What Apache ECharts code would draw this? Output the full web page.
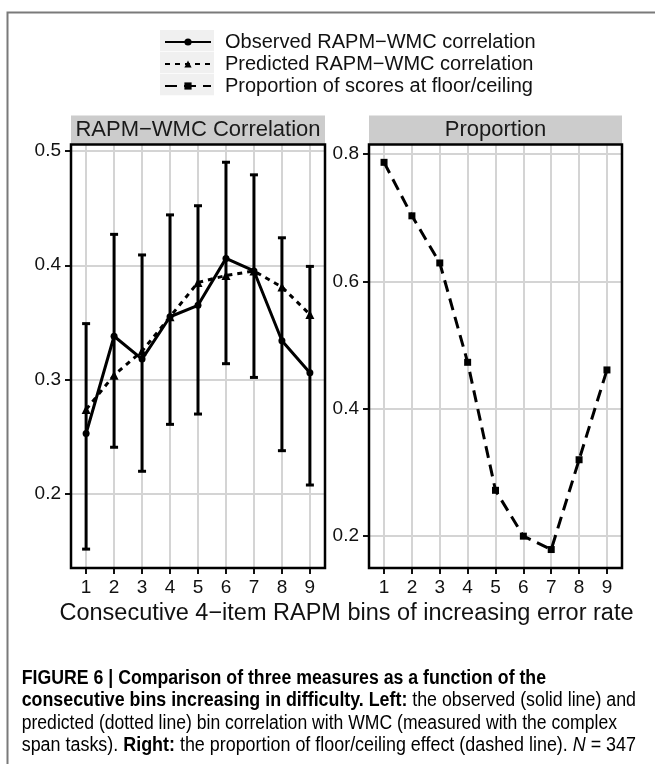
<!DOCTYPE html>
<html>
<head>
<meta charset="utf-8">
<script src="https://cdn.jsdelivr.net/npm/echarts@6/dist/echarts.min.js"></script>
<style>
html, body { margin: 0; padding: 0; background: #fff; }
#chart { width: 655px; height: 764px; }
</style>
</head>
<body>
<div id="chart"></div>
<script>
// bins 1..9
const bins = [1, 2, 3, 4, 5, 6, 7, 8, 9]
// observed correlation and its error bar ends
const observed = [0.253, 0.338, 0.318, 0.355, 0.365, 0.406, 0.395, 0.334, 0.306]
const observedLow = [0.152, 0.241, 0.220, 0.261, 0.270, 0.314, 0.302, 0.238, 0.208]
const observedHigh = [0.349, 0.427, 0.409, 0.444, 0.452, 0.490, 0.479, 0.424, 0.399]
// predicted correlation
const predicted = [0.274, 0.304, 0.325, 0.355, 0.385, 0.391, 0.395, 0.381, 0.357]
// proportion at floor/ceiling
const proportion = [0.787, 0.703, 0.629, 0.473, 0.272, 0.200, 0.179, 0.320, 0.461]
// tick labels
const xTicks = [1, 2, 3, 4, 5, 6, 7, 8, 9]
const corrTicks = [0.2, 0.3, 0.4, 0.5]
const propTicks = [0.2, 0.4, 0.6, 0.8]
const seriesNames = ['Observed RAPM\u2212WMC correlation', 'Predicted RAPM\u2212WMC correlation', 'Proportion of scores at floor/ceiling']
const stripTitles = ['RAPM\u2212WMC Correlation', 'Proportion']
const xTitle = 'Consecutive 4\u2212item RAPM bins of increasing error rate'
// caption, one array per line: [style, text]
const caption = [
    [['b', 'FIGURE 6 | Comparison of three measures as a function of the']],
    [['b', 'consecutive bins increasing in difficulty. Left:'], ['r', ' the observed (solid line) and']],
    [['r', 'predicted (dotted line) bin correlation with WMC (measured with the complex']],
    [['r', 'span tasks). '], ['b', 'Right:'], ['r', ' the proportion of floor/ceiling effect (dashed line). '], ['i', 'N'], ['r', ' = 347']]
]
const captionEnds = [546, 636, 617, 636]

const FONT = '"Liberation Sans", Arial, Helvetica, sans-serif'
const panels = [{ left: 71, width: 254 }, { left: 369, width: 253 }]
const panelTop = 144.5
const panelBottom = 568
const stripTop = 115.5
const legendTop = 31

const pairs = (ys) => bins.map((b, i) => [b, ys[i]])

//文字宽度测量, 用于压缩说明文字
const ctx = document.createElement('canvas').getContext('2d')
const capSize = 20
const segFont = (s) => (s === 'i' ? 'italic ' : '') + (s === 'b' ? 'bold ' : '') + capSize + 'px ' + FONT
const lineWidth = (segs) => segs.reduce((w, seg) => {
    ctx.font = segFont(seg[0])
    return w + ctx.measureText(seg[1]).width
}, 0)
const richStyle = {
    b: { fontWeight: 'bold', color: '#111', fontSize: capSize, fontFamily: FONT, lineHeight: 22 },
    r: { color: '#333', fontSize: capSize, fontFamily: FONT, lineHeight: 22 },
    i: { fontStyle: 'italic', color: '#333', fontSize: capSize, fontFamily: FONT, lineHeight: 22 }
}

const graphics = []
//外框
graphics.push({
    type: 'polyline',
    shape: { points: [[7.5, 764], [7.5, 12.5], [655, 12.5]] },
    style: { stroke: '#7a7a7a', lineWidth: 2, fill: null }
})
//图例背景
for (let i = 0; i < 3; i++) {
    graphics.push({
        type: 'rect', z: -1,
        shape: { x: 160, y: legendTop - 1 + 22 * i, width: 54, height: 21.2 },
        style: { fill: '#f0f0f0' }
    })
}
//分面标题
panels.forEach((p, i) => {
    graphics.push({
        type: 'rect',
        shape: { x: p.left, y: stripTop, width: p.width, height: panelTop - stripTop },
        style: { fill: '#cccccc' }
    })
    graphics.push({
        type: 'text',
        x: p.left + p.width / 2, y: 129.6,
        style: { text: stripTitles[i], fontSize: 22, fontFamily: FONT, fill: '#1a1a1a', align: 'center', verticalAlign: 'middle' }
    })
})
//横轴标题
graphics.push({
    type: 'text',
    x: 346.5, y: 613.5,
    style: { text: xTitle, fontSize: 23.5, fontFamily: FONT, fill: '#111', align: 'center', verticalAlign: 'middle' }
})
//说明文字
caption.forEach((segs, i) => {
    const w = lineWidth(segs)
    graphics.push({
        type: 'text',
        x: 21.7, y: 678 + 22.5 * i,
        scaleX: (captionEnds[i] - 21.7) / w,
        style: {
            text: segs.map(s => '{' + s[0] + '|' + s[1] + '}').join(''),
            rich: richStyle,
            verticalAlign: 'middle'
        }
    })
})

const chartInstance = echarts.init(document.getElementById('chart'), null, { renderer: 'canvas' })

const makeX = (idx) => ({
    type: 'value', gridIndex: idx, min: 0.46, max: 9.54, splitNumber: 9,
    axisLine: { show: false },
    axisTick: { show: true, customValues: xTicks, length: 6, lineStyle: { color: '#111', width: 2 } },
    axisLabel: { customValues: xTicks, fontSize: 19, fontFamily: FONT, color: '#111', margin: 10 },
    splitLine: { show: true, lineStyle: { color: '#d4d4d4', width: 2 } }
})
const makeY = (idx, min, max, ticks) => ({
    type: 'value', gridIndex: idx, min: min, max: max, splitNumber: 4,
    axisLine: { show: false },
    axisTick: { show: true, customValues: ticks, length: 6, lineStyle: { color: '#111', width: 2 } },
    axisLabel: { customValues: ticks, fontSize: 19, fontFamily: FONT, color: '#111', margin: 10, formatter: (v) => v.toFixed(1) },
    splitLine: { show: true, lineStyle: { color: '#d4d4d4', width: 2 } }
})

const option = {
    animation: false,
    backgroundColor: '#fff',
    graphic: graphics,
    legend: {
        orient: 'vertical', left: 164, top: legendTop, padding: 0, itemGap: 0,
        itemWidth: 46, itemHeight: 9, selectedMode: false,
        data: seriesNames,
        textStyle: { fontSize: 20, lineHeight: 22, color: '#111', fontFamily: FONT, padding: [0, 0, 0, 9] }
    },
    grid: panels.map(p => ({
        left: p.left, top: panelTop, width: p.width, height: panelBottom - panelTop,
        show: true, z: 10, borderColor: '#000', borderWidth: 2.5, backgroundColor: 'transparent'
    })),
    xAxis: [makeX(0), makeX(1)],
    yAxis: [makeY(0, 0.1355, 0.5055, corrTicks), makeY(1, 0.150, 0.815, propTicks)],
    series: [
        {
            type: 'custom',
            xAxisIndex: 0, yAxisIndex: 0,
            data: bins.map((b, i) => [b, observedLow[i], observedHigh[i]]),
            encode: { x: 0, y: [1, 2] },
            renderItem: (params, api) => {
                const x = api.value(0)
                const hi = api.coord([x, api.value(2)])
                const lo = api.coord([x, api.value(1)])
                const cap = 4
                const style = { stroke: '#000', lineWidth: 3 }
                return {
                    type: 'group',
                    children: [
                        { type: 'line', shape: { x1: hi[0], y1: hi[1], x2: lo[0], y2: lo[1] }, style },
                        { type: 'line', shape: { x1: hi[0] - cap, y1: hi[1], x2: hi[0] + cap, y2: hi[1] }, style },
                        { type: 'line', shape: { x1: lo[0] - cap, y1: lo[1], x2: lo[0] + cap, y2: lo[1] }, style }
                    ]
                }
            }
        },
        {
            name: seriesNames[1], type: 'line',
            xAxisIndex: 0, yAxisIndex: 0,
            data: pairs(predicted),
            symbol: 'triangle', symbolSize: 9,
            lineStyle: { color: '#000', width: 3, type: [5, 5] },
            itemStyle: { color: '#000' }
        },
        {
            name: seriesNames[0], type: 'line',
            xAxisIndex: 0, yAxisIndex: 0,
            data: pairs(observed),
            symbol: 'circle', symbolSize: 7,
            lineStyle: { color: '#000', width: 3 },
            itemStyle: { color: '#000' }
        },
        {
            name: seriesNames[2], type: 'line',
            xAxisIndex: 1, yAxisIndex: 1,
            data: pairs(proportion),
            symbol: 'rect', symbolSize: 7,
            lineStyle: { color: '#000', width: 3, type: [12, 7] },
            itemStyle: { color: '#000' }
        }
    ]
}
chartInstance.setOption(option)
</script>
</body>
</html>
